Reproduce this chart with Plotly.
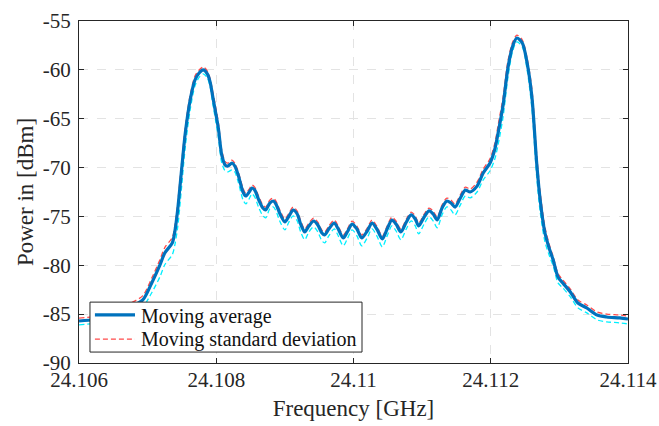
import plotly.graph_objects as go

# Frequency [GHz]
freq = [
    24.10600, 24.10623, 24.10645, 24.10660, 24.10675, 24.10693, 24.10706, 24.10718, 24.10725, 24.10736,
    24.10740, 24.10744, 24.10749, 24.10755, 24.10762, 24.10769, 24.10775, 24.10781, 24.10787, 24.10791,
    24.10795, 24.10803, 24.10808, 24.10813, 24.10817, 24.10823, 24.10827, 24.10832, 24.10839, 24.10843,
    24.10848, 24.10852, 24.10856, 24.10862, 24.10868, 24.10872, 24.10878, 24.10883, 24.10887, 24.10893,
    24.10900, 24.10906, 24.10912, 24.10918, 24.10923, 24.10929, 24.10935, 24.10942, 24.10948, 24.10954,
    24.10958, 24.10964, 24.10972, 24.10977, 24.10985, 24.10991, 24.10998, 24.11005, 24.11012, 24.11020,
    24.11027, 24.11034, 24.11042, 24.11049, 24.11056, 24.11062, 24.11069, 24.11077, 24.11084, 24.11090,
    24.11095, 24.11103, 24.11110, 24.11116, 24.11122, 24.11129, 24.11136, 24.11142, 24.11148, 24.11155,
    24.11163, 24.11170, 24.11180, 24.11189, 24.11199, 24.11206, 24.11211, 24.11218, 24.11225, 24.11232,
    24.11238, 24.11246, 24.11253, 24.11260, 24.11267, 24.11272, 24.11279, 24.11286, 24.11291, 24.11298,
    24.11305, 24.11316, 24.11327, 24.11340, 24.11355, 24.11369, 24.11388, 24.11400,
]

# Moving average [dBm]
moving_avg = [
    -85.70, -85.55, -85.25, -84.85, -84.30, -83.55, -81.81, -79.97, -78.74, -77.70,
    -76.40, -74.20, -70.60, -66.40, -63.08, -61.04, -60.32, -60.01, -60.42, -61.24,
    -62.78, -65.95, -68.71, -69.74, -69.84, -69.53, -69.84, -70.76, -72.50, -72.91,
    -72.50, -72.09, -72.30, -73.32, -74.14, -74.34, -73.63, -73.42, -73.73, -74.75,
    -75.57, -74.96, -74.34, -74.75, -75.78, -76.59, -75.98, -75.47, -75.88, -76.70,
    -76.90, -76.29, -75.67, -76.18, -77.21, -76.59, -75.78, -76.29, -77.21, -76.49,
    -75.67, -76.29, -77.31, -76.29, -75.37, -75.78, -76.59, -75.57, -74.85, -75.26,
    -75.98, -75.06, -74.44, -74.75, -75.36, -74.14, -73.42, -73.63, -74.04, -73.22,
    -72.30, -72.50, -71.90, -70.56, -69.53, -68.10, -66.36, -63.60, -59.81, -57.56,
    -56.74, -57.25, -59.30, -62.80, -69.60, -73.30, -76.70, -78.44, -79.46, -81.20,
    -81.81, -82.73, -83.86, -84.37, -85.09, -85.29, -85.39, -85.50,
]

# Moving standard deviation, read as distance above / below the average [dB]
std_above = [
    0.30, 0.30, 0.30, 0.35, 0.40, 0.45, 0.50, 0.55, 0.55, 0.55,
    0.60, 0.70, 0.70, 0.60, 0.50, 0.40, 0.30, 0.30, 0.30, 0.35,
    0.50, 0.60, 0.50, 0.35, 0.30, 0.30, 0.30, 0.35, 0.40, 0.30,
    0.30, 0.30, 0.30, 0.35, 0.30, 0.30, 0.30, 0.30, 0.30, 0.35,
    0.30, 0.30, 0.30, 0.30, 0.35, 0.30, 0.30, 0.30, 0.30, 0.30,
    0.30, 0.30, 0.30, 0.30, 0.30, 0.30, 0.30, 0.30, 0.30, 0.30,
    0.30, 0.30, 0.30, 0.30, 0.30, 0.30, 0.30, 0.30, 0.30, 0.30,
    0.30, 0.30, 0.30, 0.30, 0.30, 0.30, 0.30, 0.30, 0.30, 0.35,
    0.30, 0.30, 0.40, 0.40, 0.45, 0.60, 0.80, 0.80, 0.70, 0.40,
    0.30, 0.30, 0.50, 0.80, 0.90, 0.80, 0.60, 0.40, 0.35, 0.35,
    0.30, 0.30, 0.30, 0.30, 0.30, 0.30, 0.30, 0.30,
]
std_below = [
    0.40, 0.40, 0.45, 0.50, 0.60, 0.70, 1.00, 1.20, 1.20, 1.20,
    1.40, 1.80, 1.80, 1.40, 1.00, 0.60, 0.45, 0.40, 0.40, 0.45,
    0.70, 0.90, 0.80, 0.60, 0.60, 0.70, 0.60, 0.70, 0.80, 0.80,
    0.70, 0.60, 0.70, 0.80, 0.80, 0.80, 0.60, 0.60, 0.70, 0.80,
    0.80, 0.60, 0.60, 0.70, 0.80, 0.80, 0.60, 0.60, 0.70, 0.80,
    0.80, 0.70, 0.60, 0.70, 0.80, 0.70, 0.60, 0.70, 0.80, 0.70,
    0.60, 0.70, 0.80, 0.70, 0.60, 0.70, 0.80, 0.70, 0.60, 0.70,
    0.80, 0.70, 0.60, 0.70, 0.80, 0.70, 0.60, 0.70, 0.80, 0.70,
    0.60, 0.60, 0.60, 0.70, 0.80, 1.00, 1.20, 1.20, 1.00, 0.50,
    0.40, 0.40, 0.70, 1.20, 1.40, 1.20, 0.90, 0.70, 0.60, 0.60,
    0.50, 0.50, 0.50, 0.50, 0.50, 0.50, 0.50, 0.50,
]

x_ticks = [24.106, 24.108, 24.110, 24.112, 24.114]
x_tick_labels = ["24.106", "24.108", "24.11", "24.112", "24.114"]
y_ticks = [-90, -85, -80, -75, -70, -65, -60, -55]
y_tick_labels = ["-90", "-85", "-80", "-75", "-70", "-65", "-60", "-55"]
legend_labels = ["Moving average", "Moving standard deviation"]

n = min(len(freq), len(moving_avg), len(std_above), len(std_below))
freq = freq[:n]
moving_avg = moving_avg[:n]
upper = [m + s for m, s in zip(moving_avg, std_above[:n])]
lower = [m - s for m, s in zip(moving_avg, std_below[:n])]

FONT = "Liberation Serif, Times New Roman, serif"
BLUE = "#0072BD"
RED = "#FF4A4A"
CYAN = "#00F0FF"

fig = go.Figure()
fig.add_trace(go.Scatter(
    x=freq, y=upper, mode="lines", name=legend_labels[1], showlegend=False,
    line=dict(color=RED, width=1.3, dash="5px,3px", shape="spline", smoothing=0.8),
))
fig.add_trace(go.Scatter(
    x=freq, y=lower, mode="lines", showlegend=False,
    line=dict(color=CYAN, width=1.3, dash="5px,3px", shape="spline", smoothing=0.8),
))
fig.add_trace(go.Scatter(
    x=freq, y=moving_avg, mode="lines", name=legend_labels[0], showlegend=False,
    line=dict(color=BLUE, width=3.2, shape="spline", smoothing=0.8),
))

# Legend box (MATLAB style), drawn in plot-area paper coordinates
fig.add_shape(type="rect", xref="paper", yref="paper", x0=0.020, x1=0.5155, y0=0.032, y1=0.178,
              line=dict(color="#262626", width=1), fillcolor="white", layer="above")
fig.add_shape(type="line", xref="paper", yref="paper", x0=0.029, x1=0.102, y0=0.141, y1=0.141,
              line=dict(color=BLUE, width=3.2), layer="above")
fig.add_shape(type="line", xref="paper", yref="paper", x0=0.029, x1=0.102, y0=0.070, y1=0.070,
              line=dict(color=RED, width=1.3, dash="5px,3px"), layer="above")
for label, yy in zip(legend_labels, [0.137, 0.068]):
    fig.add_annotation(text=label, xref="paper", yref="paper", x=0.110, y=yy,
                       xanchor="left", yanchor="middle", showarrow=False,
                       font=dict(family=FONT, size=20, color="#111111"))

axis_common = dict(
    showline=True, linecolor="#262626", linewidth=1, mirror="ticks",
    ticks="inside", ticklen=5, tickcolor="#262626",
    showgrid=True, gridcolor="#E3E3E3", griddash="dash", gridwidth=1,
    zeroline=False, automargin=False,
    tickfont=dict(family=FONT, size=21, color="#262626"),
)

fig.update_layout(
    width=659, height=426,
    margin=dict(l=79, r=31, t=21, b=63),
    paper_bgcolor="white", plot_bgcolor="white",
    font=dict(family=FONT, color="#262626"),
    showlegend=False,
    xaxis=dict(
        range=[24.106, 24.114], tickvals=x_ticks, ticktext=x_tick_labels,
        ticklabelstandoff=-2,
        title=dict(text="Frequency [GHz]", font=dict(family=FONT, size=23, color="#262626"), standoff=8),
        **axis_common,
    ),
    yaxis=dict(
        range=[-90, -55], tickvals=y_ticks, ticktext=y_tick_labels,
        ticklabelstandoff=3,
        title=dict(text="Power in [dBm]", font=dict(family=FONT, size=23, color="#262626"), standoff=2),
        **axis_common,
    ),
)

fig.write_html("out.html", config={"displayModeBar": False},
               post_script="document.body.style.margin='0';")
